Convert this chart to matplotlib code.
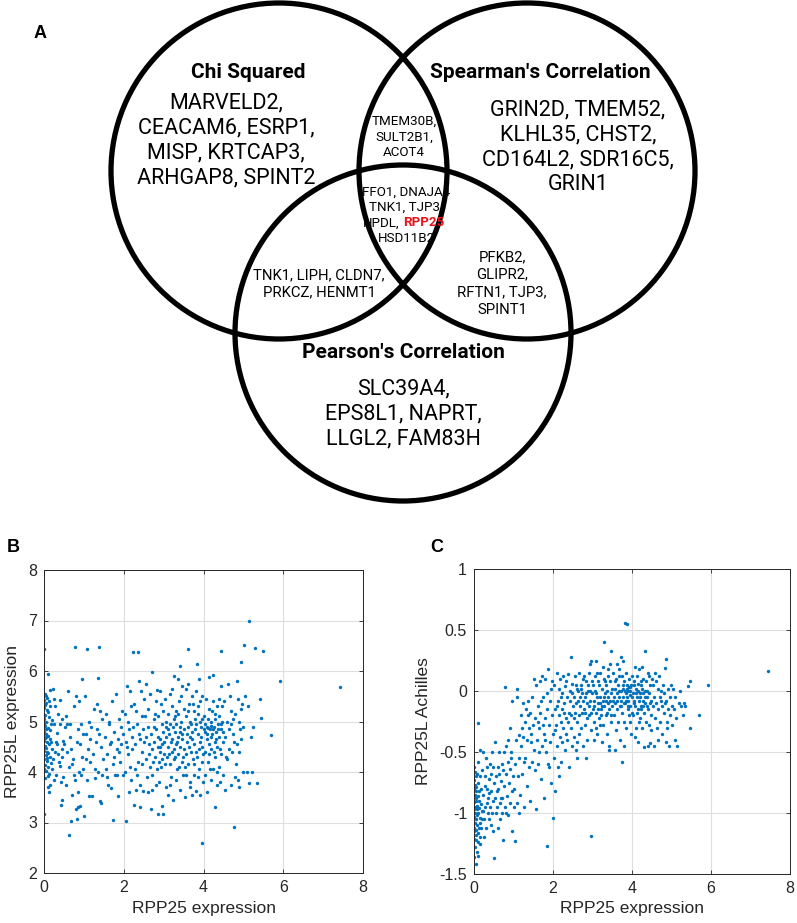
import numpy as np
import matplotlib
matplotlib.use("Agg")
import matplotlib.pyplot as plt
from matplotlib.patches import Circle

# ---- Venn diagram text (panel A) ----
chi_title = "Chi Squared"
spearman_title = "Spearman's Correlation"
pearson_title = "Pearson's Correlation"
chi_genes = ["MARVELD2,", "CEACAM6, ESRP1,", "MISP, KRTCAP3,", "ARHGAP8, SPINT2"]
spearman_genes = ["GRIN2D, TMEM52,", "KLHL35, CHST2,", "CD164L2, SDR16C5,", "GRIN1"]
pearson_genes = ["SLC39A4,", "EPS8L1, NAPRT,", "LLGL2, FAM83H"]
chi_spearman = ["TMEM30B,", "SULT2B1,", "ACOT4"]
chi_pearson = ["TNK1, LIPH, CLDN7,", "PRKCZ, HENMT1"]
spearman_pearson = ["PFKB2,", "GLIPR2,", "RFTN1, TJP3,", "SPINT1"]
all_three = ["FFO1, DNAJA4", "TNK1, TJP3,", "HPDL,", "HSD11B2"]
highlight_gene = "RPP25"

# ---- panel B: RPP25 expression vs RPP25L expression ----
b_points = np.array([
    # x 0 - 0.2
    (0.00,6.43),(0.00,3.16),(0.10,5.95),(0.02,5.55),(0.05,5.50),(0.08,5.47),(0.01,5.42),(0.12,5.40),(0.04,5.36),(0.15,5.30),
    (0.00,5.27),(0.07,5.22),(0.10,5.18),(0.03,5.13),(0.13,5.08),(0.00,5.04),(0.06,4.99),(0.18,4.96),(0.02,4.92),(0.09,4.88),
    (0.14,4.84),(0.00,4.80),(0.05,4.76),(0.11,4.72),(0.03,4.68),(0.16,4.65),(0.00,4.62),(0.08,4.59),(0.12,4.55),(0.02,4.52),
    (0.06,4.48),(0.19,4.45),(0.00,4.41),(0.10,4.37),(0.04,4.33),(0.14,4.29),(0.01,4.25),(0.07,4.21),(0.17,4.18),(0.03,4.14),
    (0.11,4.10),(0.00,4.06),(0.06,4.02),(0.13,3.97),(0.09,3.92),(0.02,3.88),(0.15,3.75),(0.10,3.70),(0.12,3.60),(0.05,4.85),
    (0.01,5.10),(0.04,4.70),(0.07,4.40),(0.00,4.95),(0.03,5.33),(0.08,4.28),(0.16,5.62),(0.20,5.02),(0.18,4.60),(0.19,4.05),
    # x 0.2 - 0.5
    (0.22,5.65),(0.25,5.45),(0.28,5.30),(0.24,4.95),(0.30,4.60),(0.33,4.55),(0.27,4.40),(0.36,4.35),(0.38,4.20),(0.41,4.12),
    (0.44,4.45),(0.47,4.62),(0.35,5.15),(0.40,5.42),(0.46,5.05),(0.30,3.95),(0.43,3.80),(0.48,3.90),(0.23,4.25),(0.32,4.78),
    (0.39,4.95),(0.45,4.30),(0.50,4.55),(0.26,3.85),(0.43,3.35),(0.46,3.45),
    # x 0.5 - 1.0
    (0.52,4.90),(0.55,5.10),(0.58,4.95),(0.60,5.60),(0.62,2.76),(0.65,4.70),(0.68,3.03),(0.68,4.45),(0.70,4.15),(0.72,4.25),
    (0.75,3.95),(0.78,6.47),(0.78,3.85),(0.80,3.27),(0.82,3.06),(0.82,4.60),(0.85,3.30),(0.85,4.85),(0.88,5.40),(0.90,3.33),
    (0.90,4.55),(0.92,3.95),(0.95,5.85),(0.95,4.30),(0.97,4.05),(1.00,3.12),(0.55,3.75),(0.63,4.10),(0.74,5.30),(0.86,3.60),
    (0.93,4.95),(0.58,4.40),(0.70,3.55),(0.80,5.50),(0.98,4.75),(0.66,4.95),(0.88,4.00),
    # x 1.0 - 1.5
    (1.02,5.50),(1.05,4.75),(1.08,6.44),(1.08,3.85),(1.10,4.45),(1.12,3.52),(1.15,4.20),(1.18,4.90),(1.20,3.52),(1.22,4.35),
    (1.25,5.25),(1.28,4.05),(1.30,4.60),(1.32,5.35),(1.35,5.87),(1.35,4.00),(1.37,6.47),(1.38,4.75),(1.40,3.42),(1.42,3.38),
    (1.42,4.50),(1.45,5.05),(1.48,4.25),(1.12,5.00),(1.27,3.88),(1.16,4.65),(1.33,4.85),(1.46,3.95),(1.05,4.25),(1.40,5.20),
    # x 1.5 - 2.0
    (1.52,4.70),(1.55,5.15),(1.58,4.35),(1.60,3.75),(1.62,4.95),(1.65,4.55),(1.68,3.68),(1.70,5.40),(1.72,3.05),(1.72,4.15),
    (1.75,4.80),(1.78,3.95),(1.80,5.55),(1.82,4.45),(1.85,4.65),(1.85,3.52),(1.88,5.05),(1.90,4.20),(1.92,4.90),(1.95,5.20),
    (1.97,3.95),(1.55,4.05),(1.63,5.00),(1.75,4.30),(1.83,3.95),(1.93,4.55),(1.68,4.60),(1.98,4.75),(1.58,3.90),(1.88,4.40),
    # x 2.0 - 2.5
    (2.02,5.15),(2.05,3.02),(2.05,4.60),(2.08,5.70),(2.10,4.35),(2.12,4.85),(2.15,5.60),(2.15,4.10),(2.18,3.85),(2.20,4.70),
    (2.23,6.37),(2.25,5.35),(2.25,3.35),(2.28,4.55),(2.30,3.65),(2.32,4.95),(2.35,6.38),(2.35,4.20),(2.38,5.80),(2.40,4.65),
    (2.42,3.30),(2.45,5.10),(2.47,4.40),(2.48,4.85),(2.50,5.45),(2.10,5.00),(2.20,4.45),(2.30,5.20),(2.40,3.75),(2.45,4.15),
    (2.03,4.00),(2.13,3.60),(2.27,4.05),(2.37,4.75),(2.43,5.60),(2.18,5.30),(2.33,3.95),(2.07,4.50),(2.48,3.62),(2.22,4.90),
    # x 2.5 - 3.0
    (2.52,4.60),(2.55,5.75),(2.55,4.25),(2.58,3.90),(2.60,4.90),(2.62,5.25),(2.63,4.55),(2.65,4.10),(2.68,3.27),(2.68,4.75),
    (2.70,5.98),(2.70,4.45),(2.72,3.95),(2.75,5.05),(2.75,4.60),(2.78,4.30),(2.80,5.40),(2.80,3.75),(2.82,4.85),(2.85,3.17),
    (2.85,4.50),(2.87,5.10),(2.88,4.20),(2.90,4.65),(2.90,5.60),(2.92,4.40),(2.95,3.33),(2.95,4.95),(2.97,4.55),(2.98,3.17),
    (2.98,5.20),(3.00,4.35),(2.53,5.10),(2.57,4.70),(2.61,3.60),(2.66,5.55),(2.73,4.20),(2.77,4.90),(2.83,4.05),(2.86,4.70),
    (2.89,3.80),(2.93,5.35),(2.96,4.25),(2.99,4.80),(2.64,4.35),(2.79,5.15),(2.91,4.50),(2.84,5.62),(2.71,3.65),(2.94,4.10),
    # x 3.0 - 3.5
    (3.02,4.60),(3.03,5.45),(3.05,4.90),(3.05,3.70),(3.08,4.30),(3.10,5.15),(3.10,4.50),(3.12,3.55),(3.13,4.75),(3.15,5.55),
    (3.15,4.15),(3.17,4.95),(3.18,3.90),(3.20,5.30),(3.20,4.40),(3.22,4.65),(3.23,3.45),(3.25,5.05),(3.25,4.25),(3.27,5.90),
    (3.28,4.80),(3.30,4.55),(3.30,3.85),(3.32,5.20),(3.33,4.05),(3.35,4.70),(3.37,5.85),(3.37,4.35),(3.38,5.40),(3.40,4.90),
    (3.40,3.65),(3.42,6.10),(3.42,4.50),(3.44,5.00),(3.45,4.20),(3.46,5.70),(3.47,4.75),(3.48,3.95),(3.50,5.25),(3.50,4.45),
    (3.04,4.15),(3.07,5.00),(3.11,4.85),(3.14,4.35),(3.16,3.75),(3.19,4.60),(3.21,5.65),(3.24,4.90),(3.26,4.45),(3.29,5.10),
    (3.31,4.95),(3.34,4.60),(3.36,5.15),(3.39,4.10),(3.41,4.80),(3.43,5.50),(3.46,4.65),(3.49,4.30),(3.06,4.70),(3.28,4.30),
    # x 3.5 - 4.0
    (3.52,4.85),(3.53,3.50),(3.55,5.10),(3.55,4.35),(3.57,5.65),(3.58,4.60),(3.60,6.44),(3.60,4.90),(3.62,4.15),(3.63,5.35),
    (3.65,3.80),(3.65,4.70),(3.67,5.00),(3.68,4.40),(3.70,3.55),(3.70,5.50),(3.72,4.80),(3.73,4.25),(3.75,5.20),(3.75,3.95),
    (3.77,4.55),(3.78,5.05),(3.80,4.95),(3.80,3.62),(3.82,5.60),(3.83,4.30),(3.84,6.13),(3.85,4.75),(3.87,5.15),(3.88,4.05),
    (3.88,5.85),(3.90,4.60),(3.90,5.40),(3.92,3.55),(3.93,4.90),(3.95,4.20),(3.95,5.05),(3.97,2.60),(3.97,4.50),(3.98,3.80),
    (4.00,4.85),(3.54,4.10),(3.59,4.75),(3.61,5.20),(3.64,4.50),(3.66,3.70),(3.69,4.95),(3.71,4.65),(3.74,5.35),(3.76,4.15),
    (3.79,4.85),(3.81,4.40),(3.86,5.30),(3.89,4.45),(3.91,5.00),(3.94,4.70),(3.96,5.50),(3.99,4.35),(3.56,3.95),(3.86,3.90),
    (3.62,5.75),
    # x 4.0 - 4.5
    (4.02,5.10),(4.03,4.40),(4.05,3.95),(4.05,4.80),(4.07,5.45),(4.08,4.65),(4.10,3.60),(4.10,4.90),(4.12,4.20),(4.13,5.25),
    (4.15,5.88),(4.15,4.55),(4.17,4.85),(4.18,3.85),(4.20,5.00),(4.20,4.45),(4.22,4.75),(4.23,5.40),(4.25,5.93),(4.25,4.05),
    (4.27,4.90),(4.28,3.31),(4.28,4.60),(4.30,5.15),(4.30,4.30),(4.32,4.80),(4.33,3.75),(4.35,5.30),(4.35,4.50),(4.37,4.95),
    (4.38,4.10),(4.40,4.70),(4.40,5.45),(4.42,3.80),(4.43,6.40),(4.43,4.85),(4.45,5.70),(4.45,4.35),(4.47,5.00),(4.48,4.60),
    (4.50,3.95),(4.04,4.95),(4.09,4.75),(4.11,5.05),(4.14,4.35),(4.16,4.05),(4.19,4.70),(4.21,5.20),(4.24,4.85),(4.26,4.40),
    (4.29,5.05),(4.31,4.65),(4.34,4.00),(4.36,4.85),(4.39,5.10),(4.41,4.45),(4.44,4.95),(4.46,5.30),(4.49,4.80),(4.12,4.88),
    (4.18,4.92),
    # x 4.5 - 5.0
    (4.52,5.40),(4.55,4.70),(4.55,3.65),(4.58,5.00),(4.60,4.25),(4.62,5.75),(4.63,4.85),(4.65,4.45),(4.68,5.20),(4.70,3.75),
    (4.70,4.95),(4.72,4.40),(4.75,5.05),(4.77,2.91),(4.77,4.60),(4.78,3.90),(4.80,5.15),(4.82,4.15),(4.85,5.80),(4.86,5.45),
    (4.87,3.85),(4.88,5.00),(4.90,3.70),(4.90,4.40),(4.93,6.18),(4.93,5.25),(4.95,4.65),(4.97,5.35),(4.98,4.00),(5.00,4.90),
    (4.57,4.30),(4.67,5.50),(4.74,4.75),(4.84,4.55),(4.92,4.85),
    # x > 5
    (5.02,6.52),(5.05,5.50),(5.10,4.00),(5.12,5.30),(5.15,7.00),(5.15,3.78),(5.18,4.70),(5.22,4.00),(5.25,4.90),(5.30,6.45),
    (5.35,3.78),(5.42,5.44),(5.45,5.07),(5.48,6.39),(5.70,4.73),(5.92,5.81),(7.42,5.68),
])
b_rpp25 = b_points[:, 0]
b_rpp25l = b_points[:, 1]

# ---- panel C: RPP25 expression vs RPP25L Achilles score ----
c_points = np.array([
    # x 0 - 0.2
    (0.00,-1.36),(0.06,-1.42),(0.10,-0.26),(0.00,-0.62),(0.02,-0.66),(0.05,-0.70),(0.01,-0.73),(0.08,-0.68),(0.03,-0.77),(0.00,-0.80),
    (0.06,-0.82),(0.11,-0.75),(0.02,-0.85),(0.04,-0.88),(0.00,-0.91),(0.09,-0.86),(0.07,-0.94),(0.01,-0.97),(0.13,-0.90),(0.03,-1.00),
    (0.00,-1.03),(0.05,-1.05),(0.10,-1.00),(0.02,-1.08),(0.08,-1.10),(0.00,-1.12),(0.15,-1.08),(0.04,-1.14),(0.12,-1.12),(0.06,-1.18),
    (0.01,-1.21),(0.09,-1.24),(0.03,-1.28),(0.14,-1.20),(0.07,-1.32),(0.11,-1.35),(0.16,-1.25),(0.18,-1.12),(0.02,-0.95),(0.05,-0.90),
    (0.00,-0.86),(0.07,-1.02),(0.12,-0.96),(0.04,-0.79),(0.17,-0.93),(0.19,-1.05),(0.13,-0.82),(0.15,-0.70),(0.09,-0.58),(0.18,-0.80),
    (0.20,-0.98),(0.01,-1.15),(0.08,-0.97),(0.10,-1.16),(0.14,-1.04),(0.05,-1.22),(0.16,-0.48),(0.20,-0.65),
    # x 0.2 - 0.5
    (0.22,-0.50),(0.24,-0.85),(0.25,-1.05),(0.27,-0.70),(0.28,-0.95),(0.30,-1.12),(0.32,-0.62),(0.33,-0.80),(0.35,-1.00),(0.36,-0.88),
    (0.38,-0.72),(0.40,-0.95),(0.41,-0.60),(0.42,-1.10),(0.44,-0.82),(0.45,-0.50),(0.47,-0.90),(0.48,-1.15),(0.50,-1.37),(0.50,-0.75),
    (0.23,-0.98),(0.26,-1.20),(0.29,-0.78),(0.34,-0.92),(0.37,-1.05),(0.43,-0.68),(0.46,-1.00),(0.31,-0.55),(0.39,-0.84),(0.49,-0.62),
    # x 0.5 - 1.0
    (0.52,-0.88),(0.53,-0.42),(0.55,-1.00),(0.56,-0.70),(0.58,-0.95),(0.60,-0.62),(0.61,-1.12),(0.62,-0.80),(0.64,-0.50),(0.65,-0.92),
    (0.66,-1.05),(0.68,-0.74),(0.70,-0.60),(0.70,-1.00),(0.72,-0.88),(0.73,-1.22),(0.75,-0.50),(0.76,-0.78),(0.78,0.03),(0.78,-0.95),
    (0.80,-0.68),(0.82,-0.45),(0.83,-0.86),(0.85,-1.02),(0.86,-0.58),(0.88,-0.75),(0.90,-0.30),(0.90,-0.92),(0.92,-0.64),(0.93,-0.50),
    (0.95,-1.15),(0.95,-0.82),(0.97,-0.08),(0.98,-0.70),(1.00,-0.95),(0.57,-0.82),(0.63,-0.68),(0.69,-0.88),(0.74,-0.65),(0.81,-1.00),
    (0.87,-0.40),(0.94,-0.55),
    # x 1.0 - 1.5
    (1.02,-0.80),(1.04,-0.60),(1.05,-1.23),(1.06,-0.40),(1.08,-0.92),(1.10,0.02),(1.10,-0.05),(1.12,-0.70),(1.13,-0.36),(1.15,-0.55),
    (1.17,-0.85),(1.18,-0.20),(1.20,-0.45),(1.22,-0.68),(1.23,-0.10),(1.25,-0.38),(1.27,-0.95),(1.28,-0.25),(1.30,-0.55),(1.32,-0.15),
    (1.33,-0.78),(1.35,-0.40),(1.37,-0.08),(1.38,-0.30),(1.40,-0.62),(1.42,-0.18),(1.43,-0.90),(1.45,-0.42),(1.47,-0.05),(1.48,-0.58),
    (1.50,-0.28),(1.14,-1.00),(1.26,-0.58),(1.36,-0.20),(1.44,-0.35),(1.21,-0.30),
    # x 1.5 - 2.0
    (1.52,0.10),(1.53,-0.48),(1.55,-0.22),(1.56,-0.97),(1.58,0.05),(1.60,-0.40),(1.61,-0.12),(1.63,-0.60),(1.65,-0.30),(1.66,0.08),
    (1.68,-0.18),(1.70,-0.72),(1.71,-0.45),(1.73,0.12),(1.75,-0.05),(1.76,-0.35),(1.78,-0.88),(1.80,-0.22),(1.81,0.10),(1.83,-0.50),
    (1.85,-1.27),(1.85,-0.15),(1.87,-0.60),(1.88,0.18),(1.90,-0.28),(1.92,-0.08),(1.93,-0.42),(1.95,0.02),(1.96,-0.75),(1.98,-0.20),
    (2.00,-1.04),(2.00,-0.35),(1.54,-0.65),(1.62,-0.25),(1.69,-0.08),(1.74,-0.28),(1.79,-0.40),(1.86,-0.02),(1.91,-0.62),(1.97,0.08),
    (1.64,-0.50),
    # x 2.0 - 2.5
    (2.02,-0.55),(2.03,0.05),(2.05,-0.15),(2.06,-0.82),(2.08,-0.28),(2.10,0.15),(2.10,-0.45),(2.12,-0.08),(2.13,-0.62),(2.15,-0.20),
    (2.17,0.10),(2.18,-0.38),(2.20,-0.05),(2.21,-0.58),(2.23,-0.15),(2.25,0.12),(2.26,-0.30),(2.28,-0.10),(2.30,-0.48),(2.31,0.04),
    (2.33,-0.22),(2.35,-0.05),(2.36,-0.40),(2.38,0.14),(2.40,-0.18),(2.41,-0.62),(2.43,-0.08),(2.45,0.28),(2.45,-0.30),(2.47,-0.02),
    (2.48,-0.45),(2.50,-0.12),(2.04,-0.32),(2.09,-0.12),(2.14,0.02),(2.19,-0.25),(2.22,-0.42),(2.24,-0.02),(2.29,-0.18),(2.32,-0.35),
    (2.34,0.08),(2.39,-0.25),(2.42,0.00),(2.46,-0.20),(2.49,0.06),(2.16,-0.70),
    # x 2.5 - 3.0
    (2.52,-0.05),(2.53,-0.38),(2.55,0.12),(2.56,-0.18),(2.58,-0.48),(2.60,0.02),(2.61,-0.25),(2.63,-0.08),(2.65,0.15),(2.66,-0.35),
    (2.68,-0.12),(2.70,0.05),(2.71,-0.30),(2.73,-0.02),(2.75,-0.45),(2.76,0.10),(2.78,-0.15),(2.80,-0.05),(2.81,-0.28),(2.83,0.08),
    (2.85,-0.10),(2.86,-0.40),(2.88,0.00),(2.90,-0.20),(2.91,0.15),(2.93,0.22),(2.93,-0.08),(2.95,-0.32),(2.97,0.25),(2.97,-1.19),
    (2.98,-0.02),(3.00,-0.15),(2.54,-0.22),(2.57,0.05),(2.59,-0.10),(2.62,-0.42),(2.64,0.00),(2.67,-0.20),(2.69,-0.05),(2.72,0.02),
    (2.74,-0.18),(2.77,-0.08),(2.79,0.12),(2.82,-0.18),(2.84,-0.02),(2.87,-0.22),(2.89,0.05),(2.92,-0.12),(2.94,0.00),(2.96,-0.18),
    (2.99,0.08),(2.60,-0.55),(2.84,-0.55),
    # x 3.0 - 3.5
    (3.02,0.05),(3.03,-0.25),(3.05,-0.08),(3.06,0.12),(3.08,-0.18),(3.10,0.25),(3.10,-0.02),(3.12,-0.35),(3.13,-0.10),(3.15,0.08),
    (3.16,-0.22),(3.18,-0.05),(3.20,0.15),(3.21,-0.15),(3.23,-0.42),(3.24,0.02),(3.26,-0.08),(3.27,-0.28),(3.28,0.10),(3.30,0.40),
    (3.30,-0.12),(3.32,-0.02),(3.33,-0.20),(3.35,0.05),(3.36,-0.35),(3.38,-0.10),(3.39,0.18),(3.40,-0.05),(3.41,-0.45),(3.42,-0.48),
    (3.43,-0.15),(3.45,0.08),(3.46,-0.25),(3.47,-0.02),(3.48,0.33),(3.49,-0.12),(3.50,0.02),(3.04,-0.12),(3.07,0.00),(3.09,-0.30),
    (3.11,-0.05),(3.14,-0.15),(3.17,0.05),(3.19,-0.10),(3.22,-0.20),(3.25,-0.12),(3.29,-0.05),(3.31,0.08),(3.34,-0.08),(3.37,-0.18),
    (3.40,0.12),(3.44,-0.08),(3.47,-0.20),(3.12,0.15),(3.26,0.20),(3.36,0.00),(3.18,-0.28),(3.44,0.22),(3.05,-0.40),
    # x 3.5 - 4.0
    (3.52,-0.08),(3.53,0.15),(3.55,-0.20),(3.56,0.02),(3.58,-0.10),(3.59,-0.32),(3.60,0.10),(3.61,-0.02),(3.63,-0.15),(3.64,0.05),
    (3.65,-0.25),(3.67,-0.05),(3.68,0.18),(3.69,-0.12),(3.70,-0.40),(3.71,0.00),(3.73,-0.08),(3.74,0.12),(3.75,-0.58),(3.75,-0.18),
    (3.77,0.02),(3.78,0.25),(3.78,-0.05),(3.80,-0.25),(3.81,0.08),(3.82,0.56),(3.83,-0.10),(3.84,-0.02),(3.85,0.15),(3.86,-0.30),
    (3.87,-0.05),(3.88,0.55),(3.88,0.05),(3.89,-0.15),(3.90,0.00),(3.91,-0.08),(3.92,0.10),(3.93,-0.20),(3.94,-0.03),(3.95,0.03),
    (3.96,-0.12),(3.97,-0.35),(3.98,0.05),(3.99,-0.05),(4.00,0.12),(3.54,-0.05),(3.57,0.08),(3.62,-0.08),(3.66,0.00),(3.72,-0.12),
    (3.76,0.05),(3.79,-0.10),(3.82,0.00),(3.85,-0.08),(3.87,0.02),(3.90,-0.12),(3.93,0.03),(3.96,0.00),(3.99,-0.18),(3.62,0.22),
    (3.72,0.28),(3.81,-0.45),(3.95,-0.25),(3.58,-0.48),(3.66,0.12),
    # x 4.0 - 4.5
    (4.02,-0.02),(4.03,-0.20),(4.05,0.08),(4.06,-0.08),(4.07,0.20),(4.08,-0.12),(4.10,0.02),(4.11,-0.30),(4.12,-0.05),(4.13,0.12),
    (4.15,-0.15),(4.16,0.00),(4.17,-0.08),(4.18,0.18),(4.20,-0.22),(4.21,-0.02),(4.22,0.05),(4.23,-0.12),(4.25,-0.30),(4.26,0.02),
    (4.27,-0.08),(4.28,0.10),(4.30,-0.18),(4.31,-0.46),(4.32,0.00),(4.33,0.33),(4.34,-0.10),(4.35,-0.25),(4.36,0.08),(4.38,-0.05),
    (4.40,-0.45),(4.40,0.15),(4.41,-0.15),(4.43,-0.02),(4.45,-0.43),(4.45,0.05),(4.47,-0.20),(4.48,-0.08),(4.50,0.10),(4.04,-0.10),
    (4.06,0.05),(4.09,-0.02),(4.12,-0.18),(4.14,0.06),(4.17,-0.25),(4.19,-0.05),(4.22,-0.15),(4.24,0.08),(4.27,-0.02),(4.29,-0.12),
    (4.33,-0.05),(4.37,-0.12),(4.39,0.00),(4.42,-0.28),(4.46,-0.10),(4.49,-0.32),(4.08,-0.38),(4.25,0.20),(4.44,0.12),(4.14,-0.42),
    # x 4.5 - 5.0
    (4.52,-0.12),(4.53,0.05),(4.55,-0.45),(4.56,-0.05),(4.58,-0.22),(4.60,0.08),(4.61,-0.10),(4.63,-0.30),(4.65,0.02),(4.66,-0.15),
    (4.68,0.12),(4.70,-0.05),(4.71,-0.25),(4.73,0.00),(4.75,-0.12),(4.76,-0.35),(4.78,0.05),(4.80,-0.18),(4.81,-0.02),(4.83,-0.10),
    (4.84,0.19),(4.86,0.26),(4.86,-0.42),(4.87,-0.08),(4.88,-0.25),(4.90,0.02),(4.92,-0.15),(4.93,-0.45),(4.95,-0.05),(4.96,-0.20),
    (4.98,0.05),(5.00,-0.12),(4.57,0.15),(4.67,-0.40),(4.74,-0.08),(4.89,-0.30),
    # x > 5
    (5.02,-0.28),(5.04,0.02),(5.06,-0.15),(5.08,-0.40),(5.10,-0.05),(5.12,-0.22),(5.15,-0.45),(5.18,-0.10),(5.22,0.00),(5.25,-0.12),
    (5.28,-0.20),(5.32,-0.10),(5.35,-0.12),(5.42,0.04),(5.47,0.08),(5.48,-0.30),(5.69,-0.20),(5.93,0.05),(7.45,0.16),
])
c_rpp25 = c_points[:, 0]
c_achilles = c_points[:, 1]

W, H = 797, 923
fig = plt.figure(figsize=(W / 100, H / 100), dpi=100)

# Venn canvas in pixel coordinates
venn = fig.add_axes([0, 0, 1, 1])
venn.set_xlim(0, W)
venn.set_ylim(H, 0)
venn.axis("off")

R = 168
for cx, cy in [(279, 171), (527, 171), (403, 333)]:
    venn.add_patch(Circle((cx, cy), R, fill=False, lw=3.8, ec="black"))

vfont = "Roboto"
head = 15
big = 15.5
small = 10.7
tiny = 9.6


def stack(lines, x, y0, dy, size, **kw):
    for i, s in enumerate(lines):
        venn.text(x, y0 + i * dy, s, ha="center", va="center", fontsize=size,
                  family=vfont, **kw)


venn.text(248, 72, chi_title, ha="center", va="center", fontsize=head,
          family=vfont, fontweight="bold")
venn.text(540, 72, spearman_title, ha="center", va="center", fontsize=head,
          family=vfont, fontweight="bold")
venn.text(403, 352, pearson_title, ha="center", va="center", fontsize=head,
          family=vfont, fontweight="bold")

stack(chi_genes, 226, 103, 25, big)
stack(spearman_genes, 578, 110, 25, big)
stack(pearson_genes, 403, 389, 25, big)
stack(chi_spearman, 404, 121, 16, tiny)
stack(chi_pearson, 319, 275, 17, small)
stack(spearman_pearson, 502, 257, 17.5, small)

# triple overlap, with RPP25 highlighted
for i, s in enumerate(all_three):
    y = 192 + i * 15.5
    if i == 2:
        venn.text(400, y, s, ha="right", va="center", fontsize=tiny, family=vfont)
        venn.text(403, y, highlight_gene, ha="left", va="center", fontsize=tiny,
                  family=vfont, fontweight="bold", color="#e8141b")
    else:
        venn.text(406, y, s, ha="center", va="center", fontsize=tiny, family=vfont)

# panel letters
pfont = "Liberation Sans"
venn.text(40, 33, "A", ha="center", va="center", fontsize=13, fontweight="bold", family=pfont)
venn.text(13, 548, "B", ha="center", va="center", fontsize=13, fontweight="bold", family=pfont)
venn.text(437, 548, "C", ha="center", va="center", fontsize=13, fontweight="bold", family=pfont)

# scatter panels, MATLAB-like style
dot_color = "#0072bd"
axis_color = "#262626"


def matlab_axes(rect):
    ax = fig.add_axes(rect)
    ax.grid(True, color="#dedede", lw=0.8)
    ax.set_axisbelow(True)
    for sp in ax.spines.values():
        sp.set_color(axis_color)
        sp.set_linewidth(0.7)
    ax.tick_params(direction="in", length=3, width=0.6, colors=axis_color,
                   labelsize=11.5, top=True, right=True, pad=5)
    return ax


axb = matlab_axes([44 / W, 1 - 873 / H, 319 / W, 303 / H])
axb.scatter(b_rpp25, b_rpp25l, s=6, color=dot_color, linewidths=0)
axb.set_xlim(0, 8)
axb.set_ylim(2, 8)
axb.set_xticks([0, 2, 4, 6, 8])
axb.set_yticks([2, 3, 4, 5, 6, 7, 8])
axb.set_xlabel("RPP25 expression", fontsize=12.5, family=pfont, color=axis_color, labelpad=4)
axb.set_ylabel("RPP25L expression", fontsize=12.5, family=pfont, color=axis_color, labelpad=6)

axc = matlab_axes([474 / W, 1 - 874 / H, 316 / W, 305 / H])
axc.scatter(c_rpp25, c_achilles, s=6, color=dot_color, linewidths=0)
axc.set_xlim(0, 8)
axc.set_ylim(-1.5, 1)
axc.set_xticks([0, 2, 4, 6, 8])
axc.set_yticks([-1.5, -1, -0.5, 0, 0.5, 1])
axc.set_yticklabels(["-1.5", "-1", "-0.5", "0", "0.5", "1"])
axc.set_xlabel("RPP25 expression", fontsize=12.5, family=pfont, color=axis_color, labelpad=4)
axc.set_ylabel("RPP25L Achilles", fontsize=12.5, family=pfont, color=axis_color, labelpad=6)

for ax in (axb, axc):
    for lab in ax.get_xticklabels() + ax.get_yticklabels():
        lab.set_family(pfont)

fig.savefig("out.png", dpi=100)
